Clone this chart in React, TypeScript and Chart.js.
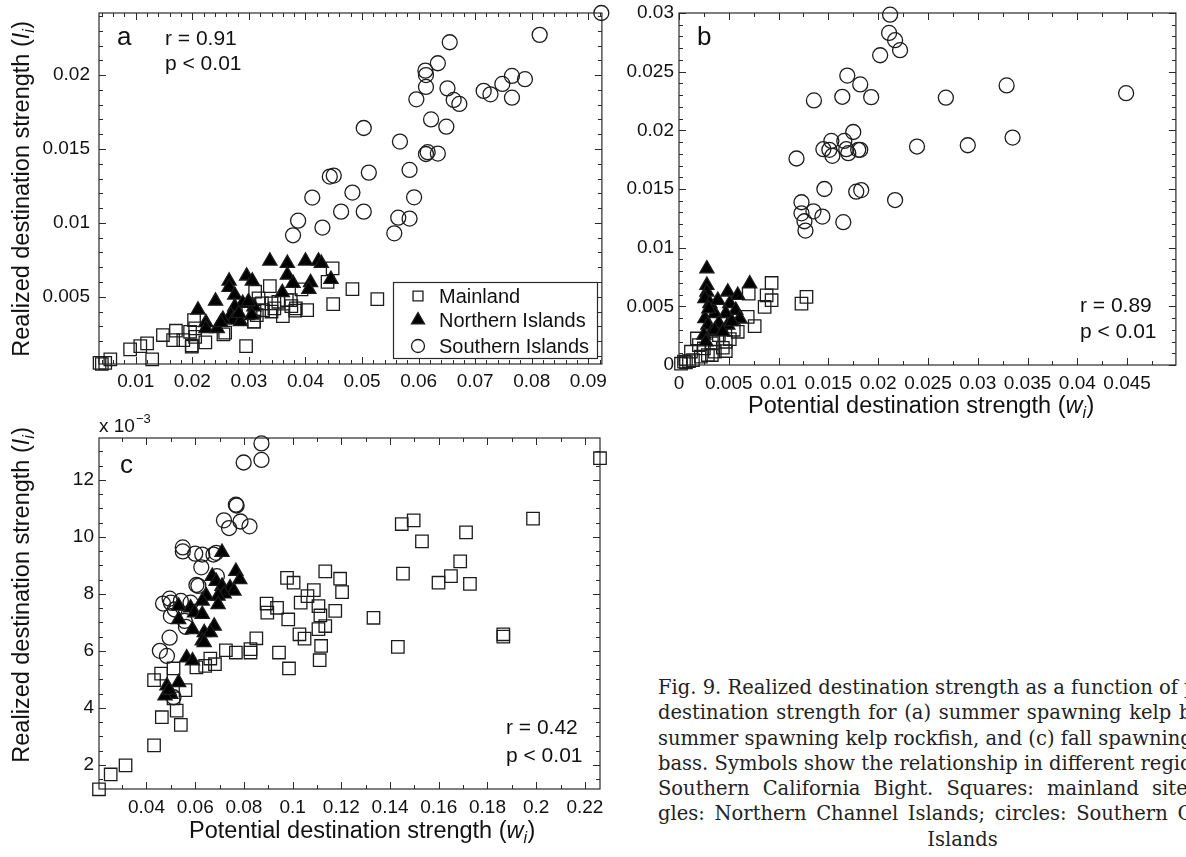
import React, { useEffect, useRef } from 'react';
import { Chart, registerables } from 'chart.js';

Chart.register(...registerables);

type Pt = [number, number];

// ---------------- shared labels ----------------
const seriesLabels = ['Mainland', 'Northern Islands', 'Southern Islands'];

// ---------------- Panel a ----------------
const aXTicks = [0.01, 0.02, 0.03, 0.04, 0.05, 0.06, 0.07, 0.08, 0.09];
const aXTickLabels = ['0.01', '0.02', '0.03', '0.04', '0.05', '0.06', '0.07', '0.08', '0.09'];
const aYTicks = [0.005, 0.01, 0.015, 0.02];
const aYTickLabels = ['0.005', '0.01', '0.015', '0.02'];
const aStats = ['r = 0.91', 'p < 0.01'];

const aMainland: Pt[] = [
  [0.0036, 0.00053], [0.0040, 0.00045], [0.0046, 0.00053], [0.0055, 0.00076], [0.0090, 0.00144],
  [0.0108, 0.00166], [0.0120, 0.00185], [0.0129, 0.00076], [0.0148, 0.00241], [0.0171, 0.0027],
  [0.0166, 0.00207], [0.0184, 0.00207], [0.0196, 0.00263], [0.0199, 0.00162], [0.0205, 0.00229],
  [0.0205, 0.00286], [0.0203, 0.00342], [0.0223, 0.00191], [0.0258, 0.00257], [0.0295, 0.00166],
  [0.0309, 0.00331], [0.0314, 0.00376], [0.0325, 0.0041], [0.0337, 0.00572], [0.0311, 0.00534],
  [0.0317, 0.00489], [0.0340, 0.00455], [0.0345, 0.00421], [0.0360, 0.00369], [0.0367, 0.00478],
  [0.0375, 0.00437], [0.0383, 0.00421], [0.0374, 0.00478], [0.0403, 0.0041], [0.0449, 0.0045],
  [0.0439, 0.00601], [0.0448, 0.00692], [0.0483, 0.00552], [0.0527, 0.00484], [0.0352, 0.00466],
  [0.0393, 0.0055], [0.0323, 0.00455], [0.0299, 0.00388], [0.0310, 0.0040], [0.0309, 0.00332],
  [0.0340, 0.0040], [0.0382, 0.00406], [0.0199, 0.00170], [0.0255, 0.00245],
];
const aNorthern: Pt[] = [
  [0.0337, 0.00742], [0.0368, 0.00726], [0.0400, 0.00742], [0.0423, 0.00742], [0.0428, 0.00726],
  [0.0368, 0.00647], [0.0378, 0.00591], [0.0409, 0.00596], [0.0406, 0.0055], [0.0445, 0.00618],
  [0.0296, 0.00641], [0.0306, 0.00607], [0.0265, 0.00607], [0.0265, 0.00564], [0.0359, 0.00528],
  [0.0241, 0.00471], [0.0210, 0.00411], [0.0275, 0.00512], [0.0289, 0.00456], [0.0275, 0.00433],
  [0.0309, 0.00433], [0.0224, 0.00325], [0.0224, 0.00286], [0.0268, 0.00377], [0.0272, 0.00343],
  [0.0285, 0.00332], [0.0254, 0.00347], [0.0305, 0.00377], [0.0244, 0.00286], [0.0250, 0.00325],
  [0.0282, 0.00388], [0.0299, 0.00467],
];
const aSouthern: Pt[] = [
  [0.0923, 0.0242], [0.0814, 0.02272], [0.0655, 0.02222], [0.0634, 0.0208], [0.0612, 0.0203],
  [0.0613, 0.0200], [0.0613, 0.0192], [0.0596, 0.01836], [0.0651, 0.0191], [0.0662, 0.01832],
  [0.0672, 0.01805], [0.0715, 0.01893], [0.0727, 0.0187], [0.0748, 0.0194], [0.0765, 0.01994],
  [0.0788, 0.01972], [0.0765, 0.01847], [0.0622, 0.0170], [0.0649, 0.01651], [0.0503, 0.01642],
  [0.0567, 0.0155], [0.0613, 0.01466], [0.0616, 0.01478], [0.0634, 0.01469], [0.0443, 0.01313],
  [0.0450, 0.0132], [0.0512, 0.0134], [0.0584, 0.01358], [0.0412, 0.01171], [0.0483, 0.01205],
  [0.0592, 0.01173], [0.0387, 0.01015], [0.0463, 0.01076], [0.0503, 0.01076], [0.0564, 0.01035],
  [0.0584, 0.01029], [0.0430, 0.00968], [0.0378, 0.00916], [0.0557, 0.00929],
];

// ---------------- Panel b ----------------
const bXTicks = [0, 0.005, 0.01, 0.015, 0.02, 0.025, 0.03, 0.035, 0.04, 0.045];
const bXTickLabels = ['0', '0.005', '0.01', '0.015', '0.02', '0.025', '0.03', '0.035', '0.04', '0.045'];
const bYTicks = [0, 0.005, 0.01, 0.015, 0.02, 0.025, 0.03];
const bYTickLabels = ['0', '0.005', '0.01', '0.015', '0.02', '0.025', '0.03'];
const bStats = ['r = 0.89', 'p < 0.01'];

const bMainland: Pt[] = [
  [0.0093, 0.00699], [0.0070, 0.00608], [0.0088, 0.00594], [0.0093, 0.00552], [0.0086, 0.00495],
  [0.0128, 0.0058], [0.0123, 0.00523], [0.0069, 0.0041], [0.0076, 0.00331], [0.0059, 0.00283],
  [0.0047, 0.00198], [0.0044, 0.00147], [0.0036, 0.00113], [0.0029, 0.00085], [0.0022, 0.00071],
  [0.0014, 0.00042], [0.0007, 0.00023], [0.0002, 0.00011], [0.0018, 0.00226], [0.0020, 0.0017],
  [0.0025, 0.00141], [0.0033, 0.00184], [0.0040, 0.00255], [0.0051, 0.00221], [0.0012, 0.00113],
  [0.0033, 0.00085], [0.0047, 0.00119], [0.0005, 0.00028], [0.0010, 0.00034], [0.0055, 0.0030],
];
const bNorthern: Pt[] = [
  [0.0028, 0.00821], [0.0028, 0.00679], [0.0028, 0.00623], [0.0026, 0.00566], [0.0031, 0.00524],
  [0.0039, 0.00552], [0.0049, 0.00623], [0.0059, 0.00594], [0.0071, 0.00693], [0.0051, 0.00524],
  [0.0057, 0.00467], [0.0061, 0.00396], [0.0047, 0.00439], [0.0036, 0.00439], [0.0026, 0.00396],
  [0.0029, 0.0034], [0.0040, 0.00354], [0.0049, 0.0034], [0.0033, 0.00283], [0.0025, 0.00255],
  [0.0036, 0.00297], [0.0027, 0.00198], [0.0044, 0.00283], [0.0053, 0.0037], [0.0030, 0.0048],
];
const bSouthern: Pt[] = [
  [0.0212, 0.02986], [0.0211, 0.0283], [0.0217, 0.02768], [0.0222, 0.02683], [0.0202, 0.0264],
  [0.0169, 0.02467], [0.0182, 0.02391], [0.01355, 0.02255], [0.0164, 0.02286], [0.0193, 0.02283],
  [0.0268, 0.02278], [0.0329, 0.02383], [0.0449, 0.02317], [0.0175, 0.01986], [0.0153, 0.0191],
  [0.0166, 0.0191], [0.0335, 0.01938], [0.0290, 0.01873], [0.0239, 0.01862], [0.0118, 0.0176],
  [0.0145, 0.01839], [0.0151, 0.01834], [0.0154, 0.01783], [0.0168, 0.01839], [0.0170, 0.01805],
  [0.0180, 0.01834], [0.0182, 0.01834], [0.0146, 0.0150], [0.0178, 0.01477], [0.0183, 0.01491],
  [0.0217, 0.01406], [0.0123, 0.01387], [0.0123, 0.01293], [0.0135, 0.0131], [0.0126, 0.01225],
  [0.0127, 0.01146], [0.0144, 0.01265], [0.0165, 0.01217],
];

// ---------------- Panel c (y in units of 10^-3) ----------------
const cXTicks = [0.04, 0.06, 0.08, 0.1, 0.12, 0.14, 0.16, 0.18, 0.2, 0.22];
const cXTickLabels = ['0.04', '0.06', '0.08', '0.1', '0.12', '0.14', '0.16', '0.18', '0.2', '0.22'];
const cYTicks = [2, 4, 6, 8, 10, 12];
const cYTickLabels = ['2', '4', '6', '8', '10', '12'];
const cStats = ['r = 0.42', 'p < 0.01'];

const cMainland: Pt[] = [
  [0.0205, 1.14], [0.0253, 1.66], [0.0314, 1.98], [0.0431, 2.68], [0.0463, 3.67], [0.0541, 3.40],
  [0.0524, 3.90], [0.0560, 4.62], [0.0511, 4.33], [0.0431, 4.97], [0.0460, 5.20], [0.0511, 5.38],
  [0.0605, 5.42], [0.0641, 5.47], [0.0662, 5.73], [0.0681, 5.53], [0.0726, 6.02], [0.0767, 5.94],
  [0.0827, 5.94], [0.0827, 6.06], [0.0851, 6.44], [0.0893, 7.66], [0.0896, 7.34], [0.0936, 7.51],
  [0.0944, 5.94], [0.0977, 8.56], [0.1004, 8.39], [0.0982, 7.10], [0.0985, 5.38], [0.1033, 7.69],
  [0.1028, 6.58], [0.1049, 6.43], [0.1061, 7.92], [0.1087, 8.13], [0.1106, 7.57], [0.1114, 7.24],
  [0.1106, 6.76], [0.1117, 6.17], [0.1111, 5.67], [0.1134, 6.87], [0.1134, 8.79], [0.1175, 7.40],
  [0.1195, 8.53], [0.1203, 8.06], [0.1332, 7.16], [0.1432, 6.14], [0.1448, 10.45], [0.1453, 8.71],
  [0.1497, 10.58], [0.1531, 9.84], [0.1599, 8.39], [0.1650, 8.62], [0.1688, 9.14], [0.1712, 10.16],
  [0.1728, 8.35], [0.1865, 6.58], [0.1865, 6.50], [0.1987, 10.64], [0.2262, 12.76],
];
const cNorthern: Pt[] = [
  [0.0710, 9.46], [0.0767, 8.79], [0.0783, 8.50], [0.0670, 8.62], [0.0686, 8.44], [0.0710, 8.27],
  [0.0743, 8.21], [0.0759, 8.10], [0.0719, 8.00], [0.0646, 7.92], [0.0629, 7.75], [0.0694, 7.92],
  [0.0694, 7.63], [0.0581, 7.51], [0.0532, 7.57], [0.0597, 7.34], [0.0629, 7.28], [0.0532, 7.10],
  [0.0589, 6.75], [0.0637, 6.64], [0.0678, 6.87], [0.0662, 6.64], [0.0629, 6.35], [0.0637, 6.29],
  [0.0565, 5.76], [0.0589, 5.65], [0.0532, 4.89], [0.0484, 4.77], [0.0500, 4.48], [0.0476, 4.42],
  [0.0492, 4.62],
];
const cSouthern: Pt[] = [
  [0.0872, 13.28], [0.0872, 12.70], [0.0799, 12.61], [0.0767, 11.13], [0.0770, 11.10], [0.0718, 10.58],
  [0.0739, 10.31], [0.0786, 10.54], [0.0823, 10.37], [0.0549, 9.63], [0.0549, 9.49], [0.0600, 9.41],
  [0.0629, 9.38], [0.0675, 9.38], [0.0686, 9.44], [0.0625, 8.93], [0.0605, 8.31], [0.0613, 8.28],
  [0.0689, 8.62], [0.0468, 7.66], [0.0495, 7.83], [0.0500, 7.69], [0.0541, 7.75], [0.0581, 7.69],
  [0.0500, 7.22], [0.0516, 7.45], [0.0557, 7.05], [0.0562, 6.84], [0.0495, 6.46], [0.0455, 6.00],
  [0.0484, 5.82], [0.0511, 4.37],
];

const captionLines = [
  'Fig. 9. Realized destination strength as a function of potential',
  'destination strength for (a) summer spawning kelp bass, (b)',
  'summer spawning kelp rockfish, and (c) fall spawning sand',
  'bass. Symbols show the relationship in different regions of the',
  'Southern California Bight. Squares: mainland sites; trian-',
  'gles: Northern Channel Islands; circles: Southern Channel',
  'Islands',
];

// ---------------- styling ----------------
const FONT = '"Liberation Sans", Arial, Helvetica, sans-serif';
const INK = '#111111';
const MARK = '#1c1c1c';
const TICK_SIZE = 19;
const TITLE_SIZE = 23.5;
const MAJOR_LEN = 7;
const MINOR_LEN = 4;
const R = { rect: 8.8, triangle: 8.2, circle: 7.5 } as Record<string, number>;
const LEGEND_R = { rect: 7, triangle: 7.5, circle: 6.5 } as Record<string, number>;

function drawMarker(ctx: CanvasRenderingContext2D, style: string, x: number, y: number, r: number) {
  ctx.beginPath();
  if (style === 'rect') {
    const s = r * Math.SQRT1_2;
    ctx.rect(x - s, y - s, 2 * s, 2 * s);
    ctx.stroke();
  } else if (style === 'circle') {
    ctx.arc(x, y, r, 0, Math.PI * 2);
    ctx.stroke();
  } else {
    ctx.moveTo(x, y - r);
    ctx.lineTo(x + r * 0.866, y + r * 0.5);
    ctx.lineTo(x - r * 0.866, y + r * 0.5);
    ctx.closePath();
    ctx.fill();
    ctx.stroke();
  }
}

function minorValues(min: number, max: number, step: number, majors: number[]) {
  const out: number[] = [];
  const k0 = Math.ceil(min / step - 1e-9);
  const k1 = Math.floor(max / step + 1e-9);
  for (let k = k0; k <= k1; k++) {
    const v = k * step;
    if (!majors.some((m) => Math.abs(m - v) < step * 0.01)) out.push(v);
  }
  return out;
}

function drawTitle(ctx: CanvasRenderingContext2D, main: string, sym: string, x: number, y: number, rotate: boolean) {
  ctx.save();
  ctx.translate(x, y);
  if (rotate) ctx.rotate(-Math.PI / 2);
  const f = TITLE_SIZE;
  const fMain = `${f}px ${FONT}`;
  const fIt = `italic ${f}px ${FONT}`;
  const fSub = `italic ${Math.round(f * 0.66)}px ${FONT}`;
  ctx.font = fMain;
  const w1 = ctx.measureText(main + ' (').width;
  ctx.font = fIt;
  const w2 = ctx.measureText(sym).width;
  ctx.font = fSub;
  const w3 = ctx.measureText('i').width;
  ctx.font = fMain;
  const w4 = ctx.measureText(')').width;
  let cx = -(w1 + w2 + w3 + w4) / 2;
  const base = f * 0.35;
  ctx.fillStyle = INK;
  ctx.textBaseline = 'alphabetic';
  ctx.textAlign = 'left';
  ctx.font = fMain;
  ctx.fillText(main + ' (', cx, base);
  cx += w1;
  ctx.font = fIt;
  ctx.fillText(sym, cx, base);
  cx += w2;
  ctx.font = fSub;
  ctx.fillText('i', cx, base + f * 0.22);
  cx += w3 + 0.5;
  ctx.font = fMain;
  ctx.fillText(')', cx, base);
  ctx.restore();
}

interface Series { label: string; data: Pt[]; style: string; order: number }
interface Panel {
  left: number; top: number; width: number; height: number;
  plot: { left: number; top: number; right: number; bottom: number };
  xMin: number; xMax: number; yMin: number; yMax: number;
  xTicks: number[]; xTickLabels: string[]; yTicks: number[]; yTickLabels: string[];
  xMinor: number; yMinor: number; xPad: number; yPad: number;
  series: Series[];
  letter: { text: string; x: number; y: number };
  stats: { lines: string[]; x: number; y: number[] };
  yTitle?: { x: number; y: number };
  xTitle?: { x: number; y: number };
  legend?: { left: number; top: number; right: number; bottom: number; mx: number; tx: number; rows: number[] };
  scaleNote?: { x: number; y: number };
}

function makeSeries(m: Pt[], n: Pt[], s: Pt[]): Series[] {
  return [
    { label: seriesLabels[0], data: m, style: 'rect', order: 2 },
    { label: seriesLabels[1], data: n, style: 'triangle', order: 1 },
    { label: seriesLabels[2], data: s, style: 'circle', order: 3 },
  ];
}

const panelA: Panel = {
  left: 0, top: 0, width: 612, height: 400,
  plot: { left: 99, top: 13, right: 603, bottom: 364 },
  xMin: 0.0035, xMax: 0.0924, yMin: 0.00045, yMax: 0.0242,
  xTicks: aXTicks, xTickLabels: aXTickLabels, yTicks: aYTicks, yTickLabels: aYTickLabels,
  xMinor: 0.002, yMinor: 0.001, xPad: 6, yPad: 9,
  series: makeSeries(aMainland, aNorthern, aSouthern),
  letter: { text: 'a', x: 117, y: 45 },
  stats: { lines: aStats, x: 165, y: [45, 70] },
  yTitle: { x: 21, y: 189 },
  legend: { left: 393, top: 282, right: 597, bottom: 358, mx: 418, tx: 439, rows: [296, 320, 346] },
};

const panelB: Panel = {
  left: 612, top: 0, width: 574, height: 422,
  plot: { left: 67, top: 13, right: 570, bottom: 365 },
  xMin: 0, xMax: 0.0499, yMin: 0, yMax: 0.03,
  xTicks: bXTicks, xTickLabels: bXTickLabels, yTicks: bYTicks, yTickLabels: bYTickLabels,
  xMinor: 0.0025, yMinor: 0.001, xPad: 7, yPad: 5,
  series: makeSeries(bMainland, bNorthern, bSouthern),
  letter: { text: 'b', x: 85, y: 45 },
  stats: { lines: bStats, x: 468, y: [312, 338] },
  xTitle: { x: 309, y: 405 },
};

const panelC: Panel = {
  left: 0, top: 400, width: 612, height: 457,
  plot: { left: 99, top: 38, right: 600, bottom: 389 },
  xMin: 0.0205, xMax: 0.2262, yMin: 1.15, yMax: 13.47,
  xTicks: cXTicks, xTickLabels: cXTickLabels, yTicks: cYTicks, yTickLabels: cYTickLabels,
  xMinor: 0.01, yMinor: 0.5, xPad: 7, yPad: 5,
  series: makeSeries(cMainland, cNorthern, cSouthern),
  letter: { text: 'c', x: 120, y: 73 },
  stats: { lines: cStats, x: 506, y: [334, 362] },
  yTitle: { x: 21, y: 195 },
  xTitle: { x: 362, y: 430 },
  scaleNote: { x: 99, y: 32 },
};

function makeDecor(p: Panel) {
  return {
    id: 'decor',
    beforeDatasetsDraw(chart: any) {
      const { ctx, chartArea } = chart;
      const { left, right, top, bottom } = chartArea;
      const xs = chart.scales.x;
      const ys = chart.scales.y;
      ctx.save();
      ctx.strokeStyle = '#2a2a2a';
      ctx.lineWidth = 1.2;
      ctx.strokeRect(left, top, right - left, bottom - top);
      ctx.lineWidth = 1;
      ctx.beginPath();
      const xMinor = minorValues(p.xMin, p.xMax, p.xMinor, p.xTicks);
      const yMinor = minorValues(p.yMin, p.yMax, p.yMinor, p.yTicks);
      const vx = (v: number, len: number) => {
        const px = Math.round(xs.getPixelForValue(v)) + 0.5;
        ctx.moveTo(px, bottom); ctx.lineTo(px, bottom - len);
        ctx.moveTo(px, top); ctx.lineTo(px, top + len);
      };
      const vy = (v: number, len: number) => {
        const py = Math.round(ys.getPixelForValue(v)) + 0.5;
        ctx.moveTo(left, py); ctx.lineTo(left + len, py);
        ctx.moveTo(right, py); ctx.lineTo(right - len, py);
      };
      p.xTicks.forEach((v) => vx(v, MAJOR_LEN));
      xMinor.forEach((v) => vx(v, MINOR_LEN));
      p.yTicks.forEach((v) => vy(v, MAJOR_LEN));
      yMinor.forEach((v) => vy(v, MINOR_LEN));
      ctx.stroke();
      ctx.restore();
    },
    afterDatasetsDraw(chart: any) {
      const ctx: CanvasRenderingContext2D = chart.ctx;
      ctx.save();
      ctx.fillStyle = INK;
      ctx.textAlign = 'left';
      ctx.textBaseline = 'alphabetic';
      ctx.font = `26px ${FONT}`;
      ctx.fillText(p.letter.text, p.letter.x, p.letter.y);
      ctx.font = `21px ${FONT}`;
      p.stats.lines.forEach((t, i) => ctx.fillText(t, p.stats.x, p.stats.y[i]));
      if (p.scaleNote) {
        ctx.font = `19px ${FONT}`;
        ctx.fillText('x 10', p.scaleNote.x, p.scaleNote.y);
        const w = ctx.measureText('x 10').width;
        ctx.font = `13px ${FONT}`;
        ctx.fillText('\u22123', p.scaleNote.x + w + 1, p.scaleNote.y - 9);
      }
      if (p.legend) {
        const L = p.legend;
        ctx.fillStyle = '#ffffff';
        ctx.fillRect(L.left, L.top, L.right - L.left, L.bottom - L.top);
        ctx.strokeStyle = '#2a2a2a';
        ctx.lineWidth = 1.2;
        ctx.strokeRect(L.left + 0.5, L.top + 0.5, L.right - L.left, L.bottom - L.top);
        p.series.forEach((s, i) => {
          ctx.strokeStyle = MARK;
          ctx.fillStyle = '#000';
          ctx.lineWidth = 1.3;
          drawMarker(ctx, s.style, L.mx, L.rows[i], LEGEND_R[s.style]);
          ctx.fillStyle = INK;
          ctx.font = `20px ${FONT}`;
          ctx.textBaseline = 'middle';
          ctx.fillText(s.label, L.tx, L.rows[i] + 1);
        });
      }
      if (p.yTitle) drawTitle(ctx, 'Realized destination strength', 'I', p.yTitle.x, p.yTitle.y, true);
      if (p.xTitle) drawTitle(ctx, 'Potential destination strength', 'w', p.xTitle.x, p.xTitle.y, false);
      ctx.restore();
    },
  };
}

function PanelChart({ p }: { p: Panel }) {
  const ref = useRef<HTMLCanvasElement | null>(null);
  useEffect(() => {
    if (!ref.current) return;
    const chart = new Chart(ref.current, {
      type: 'scatter',
      data: {
        datasets: p.series.map((s) => ({
          label: s.label,
          data: s.data.map(([x, y]) => ({ x, y })),
          pointStyle: s.style,
          pointRadius: R[s.style],
          pointHoverRadius: R[s.style],
          pointBorderWidth: 1.3,
          pointBorderColor: MARK,
          pointBackgroundColor: s.style === 'triangle' ? '#000000' : 'rgba(0,0,0,0)',
          showLine: false,
          clip: false as any,
          order: s.order,
        })),
      },
      options: {
        responsive: false,
        animation: false,
        events: [],
        layout: {
          padding: { left: 0, top: p.plot.top, right: p.width - p.plot.right, bottom: 0 },
        },
        plugins: { legend: { display: false }, tooltip: { enabled: false } },
        scales: {
          x: {
            type: 'linear',
            min: p.xMin,
            max: p.xMax,
            afterBuildTicks: (s: any) => { s.ticks = p.xTicks.map((v) => ({ value: v })); },
            afterFit: (s: any) => { s.height = p.height - p.plot.bottom; s.paddingLeft = 0; s.paddingRight = 0; },
            ticks: {
              callback: (_v: any, i: number) => p.xTickLabels[i],
              font: { family: FONT, size: TICK_SIZE },
              color: INK,
              padding: p.xPad,
              autoSkip: false,
              maxRotation: 0,
              minRotation: 0,
            },
            grid: { display: false, drawTicks: false },
            border: { display: false },
          },
          y: {
            type: 'linear',
            min: p.yMin,
            max: p.yMax,
            afterBuildTicks: (s: any) => { s.ticks = p.yTicks.map((v) => ({ value: v })); },
            afterFit: (s: any) => { s.width = p.plot.left; s.paddingTop = 0; s.paddingBottom = 0; },
            ticks: {
              callback: (_v: any, i: number) => p.yTickLabels[i],
              font: { family: FONT, size: TICK_SIZE },
              color: INK,
              padding: p.yPad,
              autoSkip: false,
            },
            grid: { display: false, drawTicks: false },
            border: { display: false },
          },
        },
      } as any,
      plugins: [makeDecor(p)],
    });
    return () => chart.destroy();
  }, [p]);
  return (
    <canvas
      ref={ref}
      width={p.width}
      height={p.height}
      style={{ position: 'absolute', left: p.left, top: p.top, width: p.width, height: p.height }}
    />
  );
}

const captionSpacing = [0, 1.5, 0, 0, 7, 3.5, 0];

export default function App() {
  return (
    <div style={{ position: 'absolute', left: 0, top: 0, width: 1186, height: 857, overflow: 'hidden', background: '#fff' }}>
      <PanelChart p={panelA} />
      <PanelChart p={panelB} />
      <PanelChart p={panelC} />
      <div
        style={{
          position: 'absolute', left: 658, top: 675, width: 640,
          fontFamily: '"DejaVu Serif", serif', fontSize: 19.5, lineHeight: '25.3px', color: '#222',
        }}
      >
        {captionLines.map((t, i) => (
          <div
            key={i}
            style={{
              whiteSpace: 'nowrap',
              wordSpacing: captionSpacing[i],
              textAlign: i === captionLines.length - 1 ? 'center' : 'left',
              width: i === captionLines.length - 1 ? 609 : undefined,
            }}
          >
            {t}
          </div>
        ))}
      </div>
    </div>
  );
}
